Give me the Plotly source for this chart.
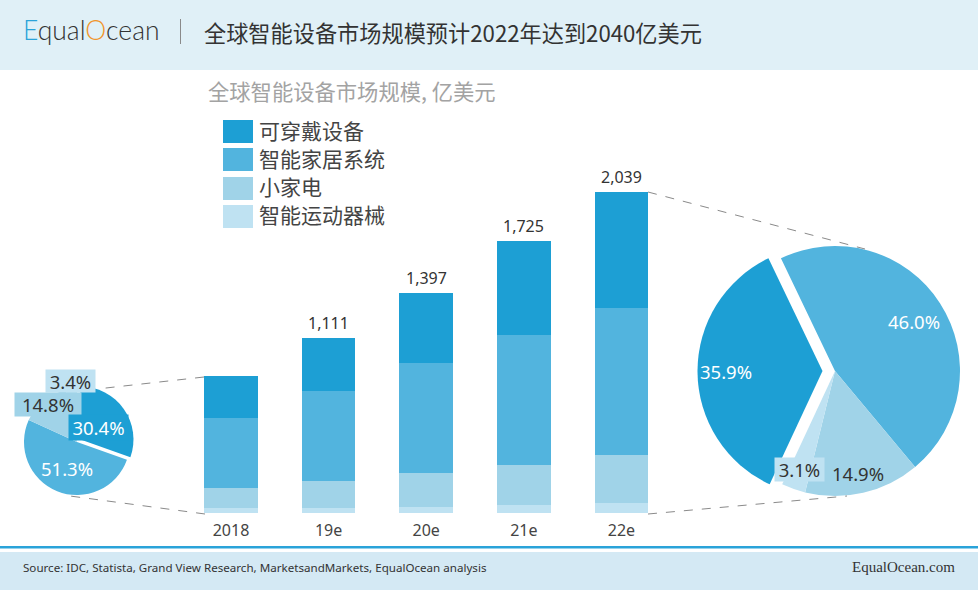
import plotly.graph_objects as go

W, H = 978, 593

years = ["2018", "19e", "20e", "21e", "22e"]
totals = [869, 1111, 1397, 1725, 2039]
wearable = [264, 338, 447, 595, 735]
smart_home = [446, 568, 694, 822, 938]
small_appliance = [129, 172, 216, 259, 304]
sports = [30, 33, 40, 49, 62]

categories = ["可穿戴设备", "智能家居系统", "小家电", "智能运动器械"]
colors = ["#1d9fd4", "#52b4de", "#a0d3e8", "#bfe2f2"]
share_2018 = [30.4, 51.3, 14.8, 3.4]
share_2022 = [35.9, 46.0, 14.9, 3.1]

title = "全球智能设备市场规模预计2022年达到2040亿美元"
subtitle = "全球智能设备市场规模, 亿美元"
source = "Source: IDC, Statista, Grand View Research, MarketsandMarkets, EqualOcean analysis"

CJK = "Noto Sans CJK SC"
LATIN = "Noto Sans"


def px(x):
    return x / W


def py(y):
    return 1 - y / H


def rect(x0, y0, x1, y1, color):
    return dict(type="rect", xref="paper", yref="paper", x0=px(x0), x1=px(x1), y0=py(y0), y1=py(y1),
                fillcolor=color, line=dict(width=0), layer="below")


def dash(x0, y0, x1, y1):
    return dict(type="line", xref="paper", yref="paper", x0=px(x0), x1=px(x1), y0=py(y0), y1=py(y1),
                line=dict(color="#8a8a8a", width=1, dash="dash"))


def note(x, y, text, size, color="#333333", anchor="center", font=LATIN, weight=400, **kw):
    return dict(xref="paper", yref="paper", x=px(x), y=py(y), text=text, showarrow=False, xanchor=anchor,
                yanchor="middle", font=dict(size=size, color=color, family=font, weight=weight), **kw)


def tag(x, y, value, w, h, fill, color="#333333"):
    return note(x, y, f"{value}%", 18.5, color=color, bgcolor=fill, borderpad=0, width=w, height=h)


fig = go.Figure()

# stacked from the bottom up
for name, vals, col in [(categories[3], sports, colors[3]), (categories[2], small_appliance, colors[2]),
                        (categories[1], smart_home, colors[1]), (categories[0], wearable, colors[0])]:
    fig.add_trace(go.Bar(x=years, y=vals, name=name, width=0.55, marker=dict(color=col, line=dict(width=0))))

for share, cx, cy, r, rot, pull in [(share_2018, 77, 442, 53, 0, 0.08), (share_2022, 835, 371, 125, 205, 0.1)]:
    half = r * (1 + pull)
    fig.add_trace(go.Pie(values=share, labels=categories, sort=False, direction="clockwise", rotation=rot,
                         pull=[pull, 0, 0, 0], textinfo="none", marker=dict(colors=colors, line=dict(width=0)),
                         domain=dict(x=[px(cx - half), px(cx + half)], y=[py(cy + half), py(cy - half)])))

shapes = [
    rect(0, 0, W, 70, "#e0f0f7"),
    rect(0, 552, W, 590, "#d4e9f4"),
    rect(0, 546, W, 548.5, "#2aa3d9"),
    rect(180, 19, 181, 44, "#8a8a8a"),
    dash(204, 377, 97, 389),
    dash(205, 514, 70, 496),
    dash(648, 192, 865, 249),
    dash(648, 514, 847, 496),
]
for i, top in enumerate([120, 148, 177, 205]):
    shapes.append(rect(223, top, 253, top + 23, colors[i]))

annotations = [
    note(21, 30, '<span style="color:#2aa3d9">E</span>qual<span style="color:#f0952b">O</span>cean', 26.5,
         anchor="left", font="Lato", weight=300),
    note(202, 32, title, 22.2, anchor="left", font=CJK),
    note(206, 91, subtitle, 21.3, color="#a3a3a3", anchor="left", font=CJK),
    note(21, 567, source, 11.6, anchor="left"),
    note(957, 567, "EqualOcean.com", 15, anchor="right", font="Liberation Serif"),
]
for i, cy in enumerate([130, 158, 186, 214]):
    annotations.append(note(257, cy, categories[i], 21, color="#444444", anchor="left", font=CJK, height=26))

for year, total in zip(years, totals):
    annotations.append(dict(x=year, y=total, xref="x", yref="y", text=f"{total:,}", showarrow=False, yanchor="bottom",
                            yshift=2, font=dict(size=16, color="#333333", family=LATIN)))

# percent tags, some sit on a coloured patch like the source
annotations += [
    tag(70.5, 381, share_2018[3], 49, 22, colors[3]),
    tag(48, 404.5, share_2018[2], 66, 23, colors[2]),
    tag(98.5, 427.5, share_2018[0], 59, 25, colors[0], color="white"),
    note(67, 468, f"{share_2018[1]}%", 18.5, color="white"),
    note(914, 321, f"{share_2022[1]}%", 18.5, color="white"),
    note(726, 371, f"{share_2022[0]}%", 18.5, color="white"),
    tag(799.5, 469.5, share_2022[3], 49, 23, colors[3]),
    note(858, 473, f"{share_2022[2]}%", 18.5),
]

step = 97.6
first = 231
unit = 0.1574
base = 513

fig.update_layout(
    width=W, height=H, barmode="stack", showlegend=False, paper_bgcolor="white", plot_bgcolor="rgba(0,0,0,0)",
    margin=dict(l=0, r=0, t=0, b=0), shapes=shapes, annotations=annotations,
    xaxis=dict(type="category", range=[-first / step, (W - first) / step], showgrid=False, zeroline=False,
               showline=False, ticks="", ticklabelstandoff=6, tickfont=dict(size=16, color="#444444", family=LATIN)),
    yaxis=dict(domain=[py(base), 1], range=[0, base / unit], visible=False),
)

# the page's default body margin would push everything 8px in
fig.write_html("out.html", config=dict(displayModeBar=False), post_script="document.body.style.margin='0';")
